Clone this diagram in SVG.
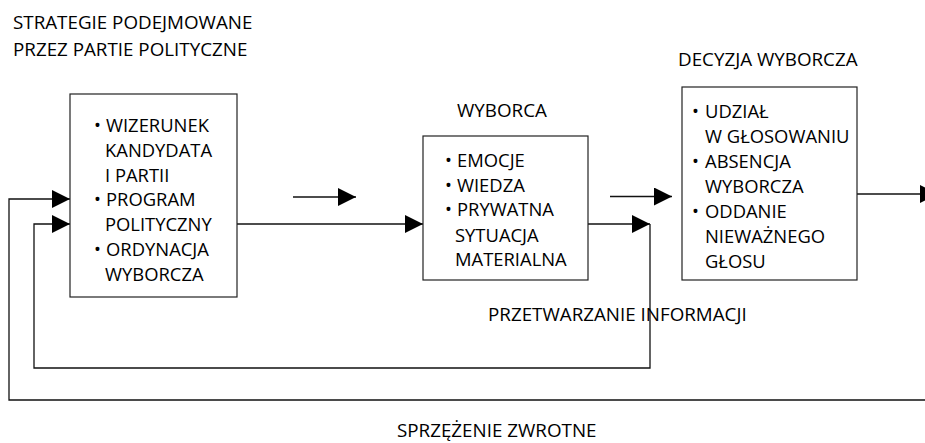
<svg xmlns="http://www.w3.org/2000/svg" width="925" height="443" viewBox="0 0 925 443">
<style>
text{font-family:"Open Sans","Noto Sans","Liberation Sans",sans-serif;fill:#000;}
.t{font-size:18.8px;}
.b{font-size:18.4px;}
.box{fill:#fff;stroke:#222;stroke-width:1.2;}
.c{fill:none;stroke:#111;stroke-width:1.3;}
</style>
<defs>
<marker id="ah" markerUnits="userSpaceOnUse" markerWidth="18" markerHeight="18" refX="18" refY="9" orient="auto">
<path d="M0,0 L18,9 L0,18 z" fill="#000"/>
</marker>
</defs>
<rect width="925" height="443" fill="#fff"/>
<g id="connectors">
<path class="c" d="M293,197 H356" marker-end="url(#ah)"/>
<path class="c" d="M610,196.5 H672" marker-end="url(#ah)"/>
<path class="c" d="M237,224 H423" marker-end="url(#ah)"/>
<path class="c" d="M588,224 H650" marker-end="url(#ah)"/>
<path class="c" d="M650,224 V368 H34 V224 H70" marker-end="url(#ah)"/>
<path class="c" d="M925,400 H9 V199 H70" marker-end="url(#ah)"/>
<path class="c" d="M857,194 H938" marker-end="url(#ah)"/>
</g>
<g id="strategie">
<text class="t" x="13" y="29">STRATEGIE PODEJMOWANE</text>
<text class="t" x="13" y="56">PRZEZ PARTIE POLITYCZNE</text>
<rect class="box" x="70" y="94" width="167" height="203"/>
<text class="b"><tspan x="94" y="132">•</tspan><tspan x="106">WIZERUNEK</tspan></text>
<text class="b" x="105" y="157">KANDYDATA</text>
<text class="b" x="105" y="181.5">I PARTII</text>
<text class="b"><tspan x="94" y="206">•</tspan><tspan x="106">PROGRAM</tspan></text>
<text class="b" x="105" y="231">POLITYCZNY</text>
<text class="b"><tspan x="94" y="256">•</tspan><tspan x="106">ORDYNACJA</tspan></text>
<text class="b" x="105" y="281">WYBORCZA</text>
</g>
<g id="wyborca">
<text class="t" x="457" y="117">WYBORCA</text>
<rect class="box" x="423" y="136" width="165" height="144"/>
<text class="b"><tspan x="445" y="167">•</tspan><tspan x="457">EMOCJE</tspan></text>
<text class="b"><tspan x="445" y="191.5">•</tspan><tspan x="457">WIEDZA</tspan></text>
<text class="b"><tspan x="445" y="216">•</tspan><tspan x="457">PRYWATNA</tspan></text>
<text class="b" x="455" y="241.5">SYTUACJA</text>
<text class="b" x="455" y="266">MATERIALNA</text>
</g>
<g id="decyzja">
<text class="t" x="678" y="66">DECYZJA WYBORCZA</text>
<rect class="box" x="682" y="87" width="175" height="193"/>
<text class="b"><tspan x="692" y="118">•</tspan><tspan x="705">UDZIAŁ</tspan></text>
<text class="b" x="705" y="143">W GŁOSOWANIU</text>
<text class="b"><tspan x="692" y="168">•</tspan><tspan x="705">ABSENCJA</tspan></text>
<text class="b" x="705" y="193">WYBORCZA</text>
<text class="b"><tspan x="692" y="218">•</tspan><tspan x="705">ODDANIE</tspan></text>
<text class="b" x="705" y="243">NIEWAŻNEGO</text>
<text class="b" x="705" y="268">GŁOSU</text>
</g>
<g id="labels">
<text class="t" x="488" y="321">PRZETWARZANIE INFORMACJI</text>
<text class="t" x="397" y="437">SPRZĘŻENIE ZWROTNE</text>
</g>
</svg>
